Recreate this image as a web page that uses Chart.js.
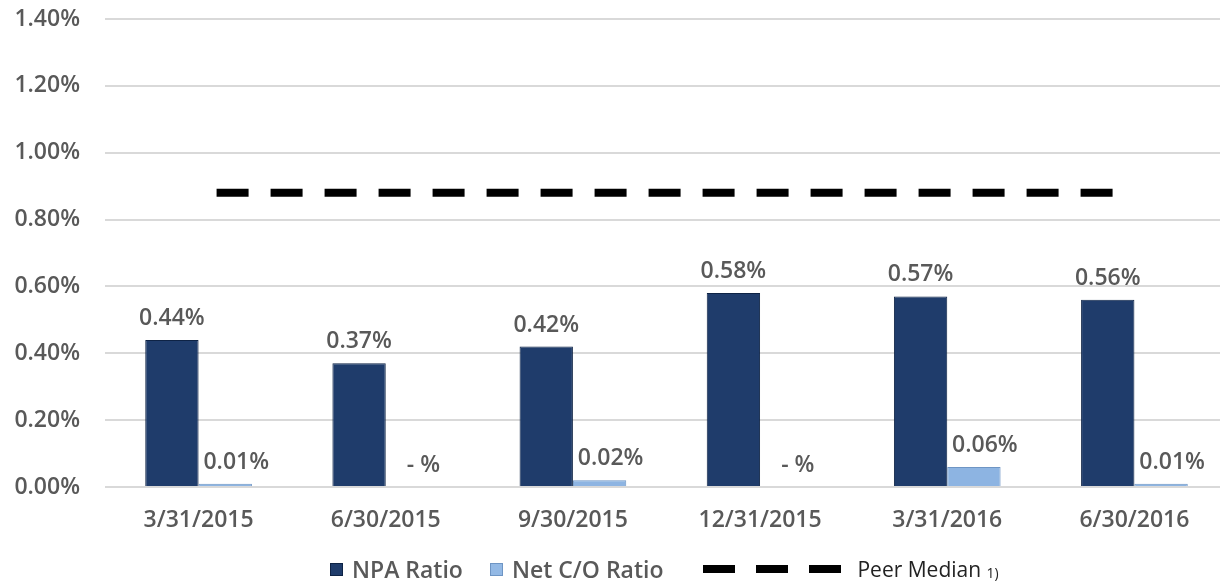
<!DOCTYPE html>
<html>
<head>
<meta charset="utf-8">
<script src="https://cdn.jsdelivr.net/npm/chart.js@4.4.1/dist/chart.umd.min.js"></script>
<style>
  html, body { margin: 0; padding: 0; background: #fff; overflow: hidden; }
  #wrap { position: relative; width: 1240px; height: 588px; }
  #legend {
    position: absolute; left: 330px; top: 553px;
    display: flex; align-items: center;
    font-family: "Open Sans", sans-serif; font-size: 23px; font-weight: 600; color: #595959;
    white-space: nowrap;
  }
  #legend .box { width: 13px; height: 13px; display: inline-block; margin-right: 9px; box-sizing: border-box; }
  #legend .item { display: flex; align-items: center; margin-right: 27px; }
  #legend .item.co { margin-right: 40px; }
  #legend .dash { display: inline-block; width: 32px; height: 8px; background: #000; margin-right: 21px; }
  #legend .peer { font-weight: 400; font-size: 21px; color: #222; margin-left: -5px; }
  #legend .peer sub { font-size: 14px; vertical-align: -1px; }
</style>
</head>
<body>
<div id="wrap">
  <canvas id="chart"></canvas>
  <div id="legend"></div>
</div>
<script>
document.addEventListener("DOMContentLoaded", function () {

    const categories = ['3/31/2015', '6/30/2015', '9/30/2015', '12/31/2015', '3/31/2016', '6/30/2016'];
    const npaRatio = [0.44, 0.37, 0.42, 0.58, 0.57, 0.56];
    const netCoRatio = [0.01, 0, 0.02, 0, 0.06, 0.01];
    const peerMedian = [0.88, 0.88, 0.88, 0.88, 0.88, 0.88];
    const yTicks = [0, 0.2, 0.4, 0.6, 0.8, 1.0, 1.2, 1.4];

    const textColor = '#595959';
    const font = { family: '"Open Sans", sans-serif', size: 23, weight: '600' };

    // chart.js 4.5 splits bar slots by every x axis in use (the peer line sits on its own axis)
    const proto = Chart.BarController.prototype;
    if (typeof proto._getAxisCount === 'function') {
        proto._getAxisCount = function () { return 1; };
    }

    // bar value labels (no datalabels plugin available)
    const valueLabels = {
        id: 'valueLabels',
        afterDatasetsDraw(chart) {
            const ctx = chart.ctx;
            ctx.save();
            ctx.font = '600 23px "Open Sans", sans-serif';
            ctx.fillStyle = textColor;
            ctx.textAlign = 'center';
            ctx.textBaseline = 'alphabetic';
            chart.data.datasets.forEach((ds, i) => {
                if (ds.type === 'line') return;
                const meta = chart.getDatasetMeta(i);
                meta.data.forEach((bar, j) => {
                    const v = ds.data[j];
                    const txt = v === 0 ? '- %' : v.toFixed(2) + '%';
                    const dx = i === 1 ? 11 : 0;
                    ctx.fillText(txt, bar.x + dx, bar.y - 15);
                });
            });
            ctx.restore();
        }
    };

    const ok = (...n) => n.every(Number.isFinite);

    function npaFill(context) {
        const el = context.element;
        if (!el || !ok(el.x, el.width)) return '#1F3C6B';
        const w = el.width;
        const g = context.chart.ctx.createLinearGradient(el.x - w / 2, 0, el.x + w / 2, 0);
        g.addColorStop(0, '#132B52');
        g.addColorStop(0.12, '#1F3C6B');
        g.addColorStop(0.88, '#1F3C6B');
        g.addColorStop(1, '#132B52');
        return g;
    }

    function coFill(context) {
        const el = context.element;
        if (!el || !ok(el.y, el.base) || el.base - el.y < 1) return '#8DB4E2';
        const g = context.chart.ctx.createLinearGradient(0, el.y, 0, el.base);
        g.addColorStop(0, '#C9DDF3');
        g.addColorStop(0.3, '#93B9E5');
        g.addColorStop(1, '#7FA8DA');
        return g;
    }

    const chart = new Chart(document.getElementById('chart'), {
        type: 'bar',
        data: {
            labels: categories,
            datasets: [{
                label: 'NPA Ratio',
                data: npaRatio,
                backgroundColor: npaFill,
                borderColor: '#0E2345',
                borderWidth: 1,
                categoryPercentage: 0.57,
                barPercentage: 1.0
            }, {
                label: 'Net C/O Ratio',
                data: netCoRatio,
                backgroundColor: coFill,
                borderColor: '#6E95C4',
                borderWidth: 1,
                categoryPercentage: 0.57,
                barPercentage: 1.0
            }, {
                type: 'line',
                label: 'Peer Median',
                data: peerMedian.map((v, i) => ({ x: i, y: v })),
                xAxisID: 'x2',
                borderColor: '#000',
                borderWidth: 8,
                borderDash: [32, 22],
                borderCapStyle: 'butt',
                pointRadius: 0,
                fill: false
            }]
        },
        options: {
            responsive: true,
            maintainAspectRatio: false,
            animation: false,
            layout: { padding: { top: 19, right: 12, bottom: 53, left: 0 } },
            plugins: {
                legend: { display: false },
                tooltip: { enabled: false }
            },
            scales: {
                x: {
                    offset: true,
                    grid: { display: false, drawTicks: false },
                    border: { display: false },
                    ticks: { color: textColor, font: font, padding: 20, maxRotation: 0 },
                    afterFit(scale) { scale.height = 48; }
                },
                x2: {
                    type: 'linear',
                    display: false,
                    min: -0.1,
                    max: 5.1
                },
                y: {
                    min: 0,
                    max: 1.4,
                    afterBuildTicks(scale) {
                        scale.ticks = yTicks.map(v => ({ value: v }));
                    },
                    afterFit(scale) {
                        scale.width = 105;
                        scale.paddingTop = 0;
                    },
                    grid: { color: '#D9D9D9', lineWidth: 2, drawTicks: false },
                    border: { display: false },
                    ticks: {
                        color: textColor, font: font, padding: 25,
                        callback: v => v.toFixed(2) + '%'
                    }
                }
            }
        },
        plugins: [valueLabels]
    });

    // html legend built from the datasets
    const legend = document.getElementById('legend');
    chart.data.datasets.forEach((ds, i) => {
        const item = document.createElement('span');
        item.className = 'item' + (i === 1 ? ' co' : '');
        if (ds.type === 'line') {
            for (let k = 0; k < 3; k++) {
                const d = document.createElement('span');
                d.className = 'dash';
                item.appendChild(d);
            }
            const t = document.createElement('span');
            t.className = 'peer';
            t.innerHTML = ds.label + ' <sub>1)</sub>';
            item.appendChild(t);
        } else {
            const b = document.createElement('span');
            b.className = 'box';
            b.style.background = i === 0 ? '#1F3C6B' : '#93B9E5';
            b.style.border = '1px solid ' + (i === 0 ? '#0E2345' : '#6E95C4');
            item.appendChild(b);
            const t = document.createElement('span');
            t.textContent = ds.label;
            item.appendChild(t);
        }
        legend.appendChild(item);
    });
});
</script>
</body>
</html>
